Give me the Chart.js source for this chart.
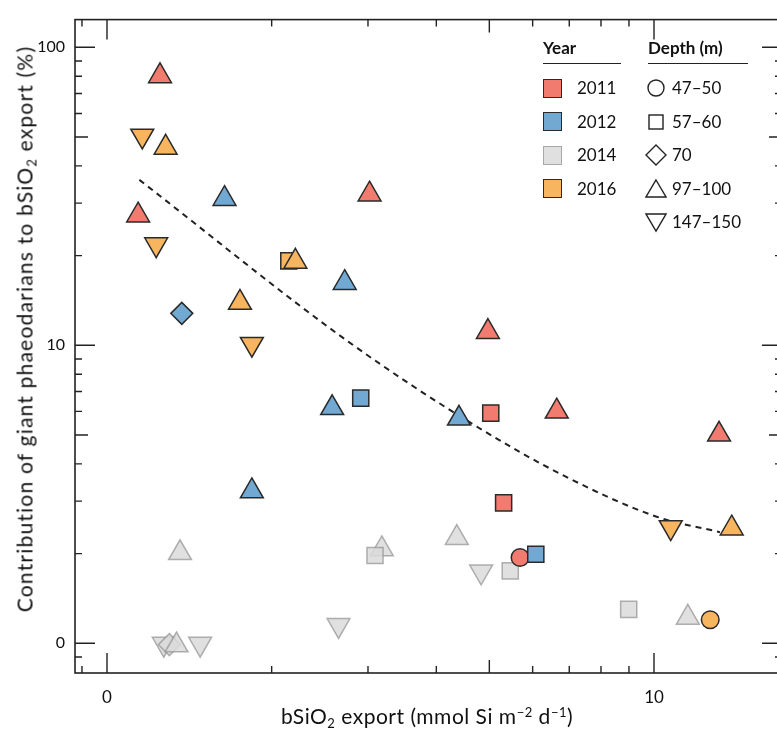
<!DOCTYPE html>
<html><head><meta charset="utf-8">
<script src="https://cdn.jsdelivr.net/npm/chart.js@4/dist/chart.umd.min.js"></script>
<style>
html,body{margin:0;padding:0;background:#fff;overflow:hidden;width:777px;height:729px;}
#wrap{position:relative;width:800px;height:729px;font-family:Lato,"DejaVu Sans",sans-serif;color:#111;}
canvas{position:absolute;left:0;top:0;}
.t{position:absolute;white-space:nowrap;}
sub,sup{font-size:0.62em;line-height:0;position:relative;vertical-align:baseline;}
sub{top:0.3em;} sup{top:-0.55em;}
#xt{left:427px;top:703px;font-size:21px;letter-spacing:0.5px;transform:translateX(-50%);}
#yt{left:24px;top:329px;font-size:21px;letter-spacing:1.2px;transform:translate(-50%,-50%) rotate(-90deg);}
.lh{position:absolute;font-weight:bold;font-size:16px;line-height:20px;height:20px;}
.ul{position:absolute;height:0;border-top:1.6px solid #222;}
.li{position:absolute;font-size:17px;line-height:20px;height:20px;}
.ls{position:absolute;}
</style></head>
<body><div id="wrap"><canvas id="c" width="800" height="729"></canvas>
<div class="t" id="xt">bSiO<sub>2</sub> export (mmol Si m<sup>−2</sup> d<sup>−1</sup>)</div>
<div class="t" id="yt">Contribution of giant phaeodarians to bSiO<sub>2</sub> export (%)</div>
<div id="legend"></div>
</div>
<script>
// ---- data (in axis units) ----
const years = ['2011', '2012', '2014', '2016'];
const depthLabels = ['47–50', '57–60', '70', '97–100', '147–150'];
// depth class index: 0 = 47–50, 1 = 57–60, 2 = 70, 3 = 97–100, 4 = 147–150

const x2011 = [1.25, 3.02, 1.14, 4.97, 6.64, 13.15, 5.03, 5.31, 5.69];
const y2011 = [80.1, 32.1, 27.3, 11.1, 6.0, 5.02, 5.92, 2.96, 1.94];
const depth2011 = [3, 3, 3, 3, 3, 3, 1, 1, 0];

const x2012 = [1.64, 2.72, 1.37, 2.58, 2.91, 1.84, 4.40, 6.08];
const y2012 = [31.0, 16.2, 12.8, 6.16, 6.65, 3.24, 5.68, 1.99];
const depth2012 = [3, 3, 2, 3, 1, 3, 3, 1];

const x2014 = [1.36, 3.18, 3.09, 2.65, 4.36, 4.83, 5.46, 8.99, 11.53, 1.27, 1.30, 1.34, 1.48];
const y2014 = [2.01, 2.07, 1.97, 1.15, 2.26, 1.74, 1.75, 1.30, 1.22, 0.995, 0.99, 0.985, 0.995];
const depth2014 = [3, 3, 1, 4, 3, 4, 1, 1, 3, 4, 2, 3, 4];

const x2016 = [1.16, 1.28, 1.23, 2.15, 2.21, 1.75, 1.84, 10.73, 13.87, 12.67];
const y2016 = [50.5, 46.1, 21.8, 19.2, 19.1, 13.9, 10.1, 2.45, 2.43, 1.20];
const depth2016 = [4, 3, 4, 1, 3, 3, 4, 4, 3, 0];

const fitX = [1.146, 2.761, 4.609, 6.828, 10.11, 13.2];
const fitY = [35.9, 10.29, 5.51, 3.66, 2.66, 2.36];

const xTickValues = [1, 10];
const xTickLabels = ['0', '10'];
const yTickValues = [1, 10, 100];
const yTickLabels = ['0', '10', '100'];

// ---- styling ----
const yearFill = {'2011': '#f27b6f', '2012': '#72a9d3', '2014': 'rgba(218,218,218,0.85)', '2016': '#f8b55f'};
const yearStroke = {'2011': '#2a2a2a', '2012': '#2a2a2a', '2014': 'rgba(150,150,150,0.75)', '2016': '#2a2a2a'};
const shapeStyle = ['circle', 'rect', 'rectRot', 'triangle', 'triangle'];
const shapeRot = [0, 0, 0, 0, 180];
const shapeRad = [8.8, 11.4, 11, 13.2, 13.2];

const xMin = Math.pow(10, (75 - 107) / 547), xMax = Math.pow(10, (782 - 107) / 547);
const yMin = Math.pow(10, (643 - 673) / 301), yMax = Math.pow(10, (643 - 13) / 301);

function ds(year, xs, ys, dep) {
  return {
    type: 'scatter', label: year,
    data: xs.map((x, i) => ({x: x, y: ys[i]})),
    pointStyle: dep.map(d => shapeStyle[d]),
    rotation: dep.map(d => shapeRot[d]),
    pointRadius: dep.map(d => shapeRad[d]),
    pointHoverRadius: dep.map(d => shapeRad[d]),
    backgroundColor: yearFill[year],
    borderColor: yearStroke[year],
    pointBorderWidth: 1.5, borderWidth: 1.5
  };
}

function lab(vals, labels, v) {
  const i = vals.findIndex(t => Math.abs(t - v) < 1e-9);
  return i >= 0 ? labels[i] : '';
}

const frameTicks = {
  id: 'frameTicks',
  afterDraw(chart) {
    const {ctx, chartArea: a, scales} = chart;
    const sx = scales.x, sy = scales.y;
    ctx.save();
    ctx.strokeStyle = '#222';
    ctx.lineWidth = 1.6;
    ctx.strokeRect(a.left, a.top, a.right - a.left, a.bottom - a.top);
    const vals = [0.9];
    for (let e = 0; e <= 1; e++) for (let m = 1; m <= 9; m++) vals.push(m * Math.pow(10, e));
    vals.push(100);
    const len = v => {
      const e = Math.floor(Math.log10(v) + 1e-9);
      const m = Math.round(v / Math.pow(10, e) * 10) / 10;
      return m === 1 ? 20 : (m === 5 ? 13 : 7);
    };
    ctx.lineWidth = 1.4;
    ctx.beginPath();
    vals.filter(v => v <= 10).forEach(v => {
      const p = sx.getPixelForValue(v), L = len(v);
      ctx.moveTo(p, a.bottom); ctx.lineTo(p, a.bottom - L);
      ctx.moveTo(p, a.top); ctx.lineTo(p, a.top + L);
    });
    vals.forEach(v => {
      const p = sy.getPixelForValue(v), L = len(v);
      ctx.moveTo(a.left, p); ctx.lineTo(a.left + L, p);
      ctx.moveTo(a.right, p); ctx.lineTo(a.right - L, p);
    });
    ctx.stroke();
    ctx.restore();
  }
};

new Chart(document.getElementById('c'), {
  type: 'scatter',
  data: {
    datasets: [
      ds('2016', x2016, y2016, depth2016),
      ds('2012', x2012, y2012, depth2012),
      ds('2011', x2011, y2011, depth2011),
      {
        type: 'line', label: 'fit',
        data: fitX.map((x, i) => ({x: x, y: fitY[i]})),
        borderColor: '#222', borderWidth: 2, borderDash: [6, 5],
        pointRadius: 0, fill: false, cubicInterpolationMode: 'monotone'
      },
      ds('2014', x2014, y2014, depth2014)
    ]
  },
  options: {
    responsive: false, devicePixelRatio: 1, animation: false, events: [],
    layout: {padding: {left: 0, top: 13, right: 18, bottom: 0}},
    plugins: {legend: {display: false}, tooltip: {enabled: false}},
    scales: {
      x: {
        type: 'logarithmic', position: 'bottom', min: xMin, max: xMax, bounds: 'data',
        grid: {display: false, drawTicks: false}, border: {display: false},
        afterBuildTicks: s => { s.ticks = xTickValues.map(v => ({value: v})); },
        ticks: {callback: v => lab(xTickValues, xTickLabels, v), font: {family: 'Lato', size: 17}, color: '#111', padding: 14, maxRotation: 0, autoSkip: false},
        afterFit: s => { s.height = 56; }
      },
      y: {
        type: 'logarithmic', position: 'left', min: yMin, max: yMax, bounds: 'data',
        grid: {display: false, drawTicks: false}, border: {display: false},
        afterBuildTicks: s => { s.ticks = yTickValues.map(v => ({value: v})); },
        ticks: {callback: v => lab(yTickValues, yTickLabels, v), font: {family: 'Lato', size: 16}, color: '#111', padding: 10, autoSkip: false},
        afterFit: s => { s.width = 75; }
      }
    }
  },
  plugins: [frameTicks]
});

// ---- legend ----
(function () {
  const L = document.getElementById('legend');
  const add = (cls, style, html) => {
    const d = document.createElement('div');
    d.className = cls; d.style.cssText = style; if (html !== undefined) d.innerHTML = html;
    L.appendChild(d);
  };
  const rows = [88, 121.5, 155, 188.5, 222];
  add('lh', 'left:543px;top:38px;font-size:17px;', 'Year');
  add('ul', 'left:543px;top:63px;width:78px;');
  add('lh', 'left:648px;top:38px;font-size:17px;', 'Depth (m)');
  add('ul', 'left:648px;top:63px;width:100px;');
  years.forEach((y, i) => {
    add('ls', `left:543px;top:${rows[i] - 9.5}px;width:19px;height:19px;box-sizing:border-box;background:${yearFill[y]};border:1.5px solid ${yearStroke[y]};`);
    add('li', `left:577px;top:${rows[i] - 10}px;`, y);
  });
  const svgShape = k => {
    const s = 'fill="#fff" stroke="#222" stroke-width="1.4"';
    if (k === 0) return `<circle cx="11" cy="11" r="8" ${s}/>`;
    if (k === 1) return `<rect x="4" y="4" width="14" height="14" ${s}/>`;
    if (k === 2) return `<polygon points="11,1 21,11 11,21 1,11" ${s}/>`;
    if (k === 3) return `<polygon points="11,2 21,19 1,19" ${s}/>`;
    return `<polygon points="1,3 21,3 11,20" ${s}/>`;
  };
  depthLabels.forEach((d, i) => {
    add('ls', `left:645px;top:${rows[i] - 11}px;width:22px;height:22px;`, `<svg width="22" height="22">${svgShape(i)}</svg>`);
    add('li', `left:672px;top:${rows[i] - 10}px;`, d);
  });
})();
</script>
</body></html>
